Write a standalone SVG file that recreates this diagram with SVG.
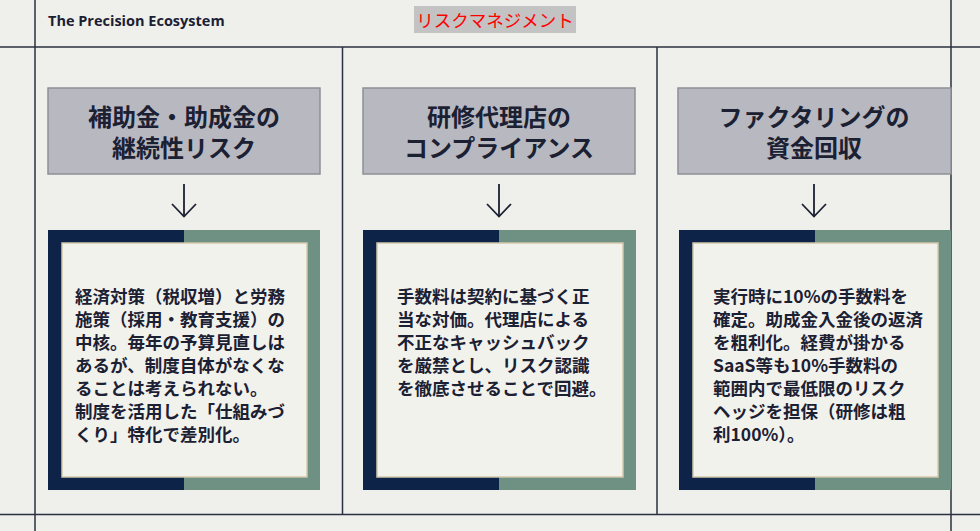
<svg xmlns="http://www.w3.org/2000/svg" width="980" height="531" viewBox="0 0 980 531">
  <style>
    .grid { stroke: #2b3040; stroke-width: 1.5; fill: none; }
    .hbox { fill: #b8b9c0; stroke: #8e8f97; stroke-width: 1.5; }
    .htxt { font-family: "Noto Sans CJK JP", "Noto Sans", sans-serif; font-weight: 700; font-size: 24px; fill: #1b2033; text-anchor: middle; }
    .navy { fill: #0d2448; }
    .sage { fill: #6f9184; }
    .panel { fill: #f2f2ed; stroke: #d4c8ab; stroke-width: 1.5; }
    .btxt { font-family: "Noto Sans CJK JP", "Noto Sans", sans-serif; font-weight: 700; font-size: 17.5px; fill: #1b2033; }
    .conn { stroke: #1b2033; stroke-width: 1.8; fill: none; }
  </style>
  <defs>
    <marker id="arr" markerUnits="userSpaceOnUse" markerWidth="30" markerHeight="30" viewBox="-15 -15 30 30" refX="0" refY="0" orient="auto">
      <path d="M-12.5,-12 L0,0 L-12.5,12" fill="none" stroke="#1b2033" stroke-width="1.8"/>
    </marker>
  </defs>
  <rect x="0" y="0" width="980" height="531" fill="#eff0eb"/>

  <g id="frame">
    <line class="grid" x1="0" y1="47" x2="980" y2="47"/>
    <line class="grid" x1="0" y1="514.5" x2="980" y2="514.5"/>
    <line class="grid" x1="35" y1="0" x2="35" y2="531"/>
    <line class="grid" x1="951" y1="0" x2="951" y2="531"/>
    <line class="grid" x1="342.5" y1="47" x2="342.5" y2="514.5"/>
    <line class="grid" x1="657" y1="47" x2="657" y2="514.5"/>
  </g>

  <g id="header">
    <text x="48" y="26" font-family="Open Sans, Noto Sans, sans-serif" font-weight="700" font-size="14.5" fill="#1b2033">The Precision Ecosystem</text>
    <rect x="414" y="6" width="162" height="27" fill="#c3c3c3"/>
    <text x="495" y="27" font-family="Noto Sans CJK JP, sans-serif" font-size="17.5" fill="#ff0000" text-anchor="middle">リスクマネジメント</text>
  </g>

  <g id="risk1-title">
    <rect class="hbox" x="48" y="88" width="272" height="86"/>
    <text class="htxt" x="184" y="126">補助金・助成金の<tspan x="184" dy="31">継続性リスク</tspan></text>
  </g>
  <g id="risk2-title">
    <rect class="hbox" x="363" y="88" width="272" height="86"/>
    <text class="htxt" x="499" y="126">研修代理店の<tspan x="499" dy="31">コンプライアンス</tspan></text>
  </g>
  <g id="risk3-title">
    <rect class="hbox" x="678" y="88" width="273" height="86"/>
    <text class="htxt" x="814" y="126">ファクタリングの<tspan x="814" dy="31">資金回収</tspan></text>
  </g>

  <g id="risk1-detail">
    <rect class="navy" x="48" y="230" width="136" height="260"/>
    <rect class="sage" x="184" y="230" width="136" height="260"/>
    <rect class="panel" x="62" y="243" width="245" height="234"/>
    <text class="btxt" x="75" y="302.5">経済対策（税収増）と労務</text>
    <text class="btxt" x="75" y="325.5">施策（採用・教育支援）の</text>
    <text class="btxt" x="75" y="348.5">中核。毎年の予算見直しは</text>
    <text class="btxt" x="75" y="371.5">あるが、制度自体がなくな</text>
    <text class="btxt" x="75" y="394.5">ることは考えられない。</text>
    <text class="btxt" x="75" y="417.5">制度を活用した「仕組みづ</text>
    <text class="btxt" x="75" y="440.5">くり」特化で差別化。</text>
  </g>
  <g id="risk2-detail">
    <rect class="navy" x="363" y="230" width="136" height="260"/>
    <rect class="sage" x="499" y="230" width="137" height="260"/>
    <rect class="panel" x="377" y="243" width="246" height="234"/>
    <text class="btxt" x="397" y="302.5">手数料は契約に基づく正</text>
    <text class="btxt" x="397" y="325.5">当な対価。代理店による</text>
    <text class="btxt" x="397" y="348.5">不正なキャッシュバック</text>
    <text class="btxt" x="397" y="371.5">を厳禁とし、リスク認識</text>
    <text class="btxt" x="397" y="394.5">を徹底させることで回避。</text>
  </g>
  <g id="risk3-detail">
    <rect class="navy" x="679" y="230" width="136" height="260"/>
    <rect class="sage" x="815" y="230" width="136" height="260"/>
    <rect class="panel" x="693" y="243" width="245" height="234"/>
    <text class="btxt" x="713" y="302.5">実行時に10%の手数料を</text>
    <text class="btxt" x="713" y="325.5">確定。助成金入金後の返済</text>
    <text class="btxt" x="713" y="348.5">を粗利化。経費が掛かる</text>
    <text class="btxt" x="713" y="371.5">SaaS等も10%手数料の</text>
    <text class="btxt" x="713" y="394.5">範囲内で最低限のリスク</text>
    <text class="btxt" x="713" y="417.5">ヘッジを担保（研修は粗</text>
    <text class="btxt" x="713" y="440.5">利100%）。</text>
  </g>

  <g id="connectors">
    <line class="conn" x1="184" y1="184" x2="184" y2="216.5" marker-end="url(#arr)"/>
    <line class="conn" x1="499" y1="184" x2="499" y2="216.5" marker-end="url(#arr)"/>
    <line class="conn" x1="814" y1="184" x2="814" y2="216.5" marker-end="url(#arr)"/>
  </g>
</svg>
